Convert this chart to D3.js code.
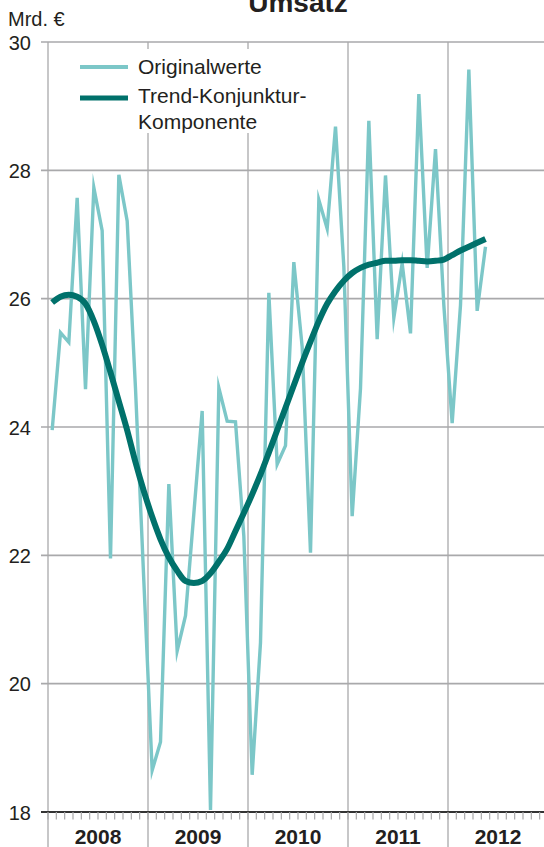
<!DOCTYPE html>
<html>
<head>
<meta charset="utf-8">
<script src="https://cdn.jsdelivr.net/npm/d3@7/dist/d3.min.js"></script>
<style>
  html, body { margin: 0; padding: 0; background: #fff; }
  svg { display: block; font-family: "Liberation Sans", Arial, Helvetica, sans-serif; }
</style>
</head>
<body>
<svg id="chart" width="544" height="847"></svg>
<script>
// ---- Data (monthly, Jan 2008 – May 2012) ----
const years = [2008, 2009, 2010, 2011, 2012];
const yTicks = [18, 20, 22, 24, 26, 28, 30];
const originalwerte = [
  23.95, 25.47, 25.32, 27.57, 24.59, 27.73, 27.06, 21.95, 27.93, 27.21, 24.6, 21.6,
  18.65, 19.09, 23.11, 20.51, 21.06, 22.65, 24.25, 18.03, 24.61, 24.09, 24.08, 22.3,
  18.58, 20.64, 26.09, 23.42, 23.71, 26.57, 25.25, 22.04, 27.54, 27.09, 28.68, 26.5,
  22.61, 24.6, 28.77, 25.37, 27.92, 25.7, 26.55, 25.46, 29.19, 26.48, 28.33, 25.9,
  24.06, 25.9, 29.57, 25.81, 26.81
];
const trend = [
  25.94, 26.03, 26.06, 26.03, 25.92, 25.65, 25.28, 24.85, 24.4, 23.95, 23.45, 23.0,
  22.6, 22.25, 21.97, 21.76, 21.6, 21.57, 21.6, 21.72, 21.9, 22.1, 22.38, 22.66,
  22.95, 23.26, 23.6, 23.95, 24.3, 24.65, 25.0, 25.33, 25.65, 25.92, 26.12, 26.28,
  26.4, 26.48, 26.53, 26.56, 26.59, 26.59, 26.6, 26.6, 26.59, 26.58, 26.59, 26.61,
  26.68, 26.75, 26.81, 26.87, 26.93
];
const seriesNames = ["Originalwerte", "Trend-Konjunktur-", "Komponente"];

// ---- Layout ----
const svg = d3.select("#chart");
const W = 544, H = 847;
const mLeft = 48, mTop = 42, mBottom = 812;
const x = d3.scaleLinear().domain([0, 60]).range([mLeft, mLeft + 500]);
const y = d3.scaleLinear().domain([18, 30]).range([mBottom, mTop]);

const colOrig = "#7cc7c8";
const colTrend = "#00716b";
const gridCol = "#a9a9ab";
const textCol = "#231f20";

// horizontal gridlines
svg.append("g").selectAll("line").data(yTicks.filter(d => d !== 18)).join("line")
  .attr("x1", mLeft - 7).attr("x2", W)
  .attr("y1", d => y(d)).attr("y2", d => y(d))
  .attr("stroke", gridCol).attr("stroke-width", 1.6);

// vertical year lines (extend below axis)
svg.append("g").selectAll("line").data(d3.range(0, 61, 12)).join("line")
  .attr("x1", d => x(d)).attr("x2", d => x(d))
  .attr("y1", mTop).attr("y2", H)
  .attr("stroke", gridCol).attr("stroke-width", 1.3);

// legend background (white box covering gridlines)
svg.append("rect").attr("x", 52).attr("y", 49).attr("width", 262).attr("height", 84)
  .attr("fill", "#fff");

// lines
const lineGen = d3.line().x((d, i) => x(i + 0.5)).y(d => y(d));
svg.append("path").datum(originalwerte)
  .attr("d", lineGen)
  .attr("fill", "none").attr("stroke", colOrig).attr("stroke-width", 3.4)
  .attr("stroke-linejoin", "miter").attr("stroke-miterlimit", 10);
svg.append("path").datum(trend)
  .attr("d", d3.line().curve(d3.curveMonotoneX).x((d, i) => x(i + 0.5)).y(d => y(d)))
  .attr("fill", "none").attr("stroke", colTrend).attr("stroke-width", 6);

// x axis line at 18
svg.append("line").attr("x1", mLeft - 7).attr("x2", W)
  .attr("y1", y(18)).attr("y2", y(18))
  .attr("stroke", "#333").attr("stroke-width", 2);

// monthly minor ticks
svg.append("g").selectAll("line").data(d3.range(0, 61)).join("line")
  .attr("x1", d => x(d)).attr("x2", d => x(d))
  .attr("y1", y(18)).attr("y2", y(18) + 7.5)
  .attr("stroke", gridCol).attr("stroke-width", 1.2);

// y tick labels
svg.append("g").selectAll("text").data(yTicks).join("text")
  .attr("x", 31).attr("y", d => y(d) + 7.5)
  .attr("text-anchor", "end").attr("font-size", 20).attr("fill", textCol)
  .text(d => d);

// unit label
svg.append("text").attr("x", 8).attr("y", 26).attr("font-size", 20).attr("fill", textCol)
  .text("Mrd. €");

// title (cut at the top edge as in the original)
svg.append("text").attr("x", 298).attr("y", 12).attr("text-anchor", "middle")
  .attr("font-size", 28).attr("font-weight", "bold").attr("fill", textCol)
  .text("Umsatz");

// year labels
svg.append("g").selectAll("text").data(years).join("text")
  .attr("x", (d, i) => x(i * 12 + 6)).attr("y", 844)
  .attr("text-anchor", "middle").attr("font-size", 21).attr("font-weight", "bold")
  .attr("fill", textCol)
  .text(d => d);

// legend
const lg = svg.append("g");
lg.append("line").attr("x1", 80).attr("x2", 128).attr("y1", 67).attr("y2", 67)
  .attr("stroke", colOrig).attr("stroke-width", 4);
lg.append("line").attr("x1", 80).attr("x2", 128).attr("y1", 98).attr("y2", 98)
  .attr("stroke", colTrend).attr("stroke-width", 5);
lg.append("text").attr("x", 138).attr("y", 74).attr("font-size", 21).attr("fill", textCol)
  .text(seriesNames[0]);
lg.append("text").attr("x", 138).attr("y", 103).attr("font-size", 21).attr("fill", textCol)
  .text(seriesNames[1]);
lg.append("text").attr("x", 138).attr("y", 129).attr("font-size", 21).attr("fill", textCol)
  .text(seriesNames[2]);
</script>
</body>
</html>
